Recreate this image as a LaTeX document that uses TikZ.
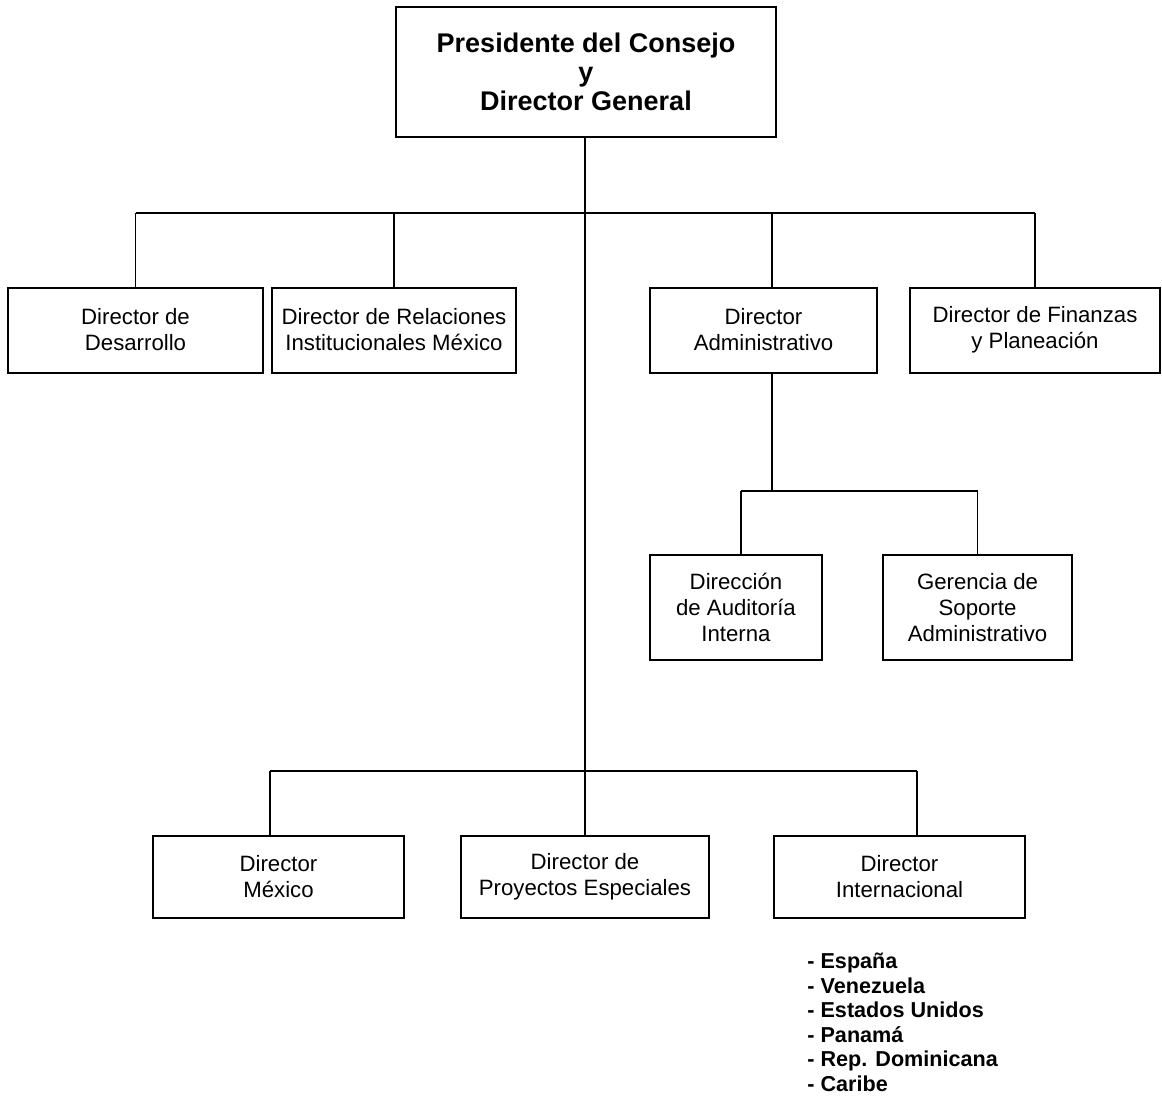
\documentclass[tikz,border=0pt]{standalone}
\usepackage{fontspec}
\setmainfont{Liberation Sans}
\begin{document}
\begin{tikzpicture}[x=0.5pt,y=-0.5pt,
  box/.style={draw,line width=1pt,rectangle,inner sep=0pt,align=center,font=\fontsize{11.1}{13}\selectfont},
  link/.style={line width=0.75pt}]
\useasboundingbox (0,0) rectangle (1162,1099);
% top
\node[box,minimum width=190pt,minimum height=65pt,font=\bfseries\fontsize{13.5}{14.5}\selectfont] (top) at (586,72) {Presidente del Consejo\\y\\Director General};
% row 1
\node[box,minimum width=127.5pt,minimum height=42.5pt] (d1) at (135.5,330) {Director de\\Desarrollo};
\node[box,minimum width=122pt,minimum height=42.5pt] (d2) at (394,330) {Director de Relaciones\\Institucionales México};
\node[box,minimum width=113.5pt,minimum height=42.5pt] (d3) at (763.5,330) {Director\\Administrativo};
\node[box,minimum width=125pt,minimum height=42.5pt] (d4) at (1035,330) {Director de Finanzas\\y Planeación};
% row 2
\node[box,minimum width=86pt,minimum height=52.5pt] (aud) at (736,607.5) {Dirección\\de Auditoría\\Interna};
\node[box,minimum width=94.5pt,minimum height=52.5pt] (ger) at (977.5,607.5) {Gerencia de\\Soporte\\Administrativo};
% row 3
\node[box,minimum width=125.5pt,minimum height=41pt] (mex) at (278.5,877) {Director\\México};
\node[box,minimum width=124pt,minimum height=41pt] (proy) at (585,877) {Director de\\Proyectos Especiales};
\node[box,minimum width=125.5pt,minimum height=41pt] (int) at (899.5,877) {Director\\Internacional};
% list
\node[anchor=north west,inner sep=0pt,align=left,font=\bfseries\fontsize{10.8}{12.25}\selectfont] (lst) at (807,953) {- España\\- Venezuela\\- Estados Unidos\\- Panamá\\- Rep. Dominicana\\- Caribe};
% coordinates
\coordinate (b1) at (585,213);
\coordinate (b3) at (585,771);
\coordinate (b2) at (772,491);
\coordinate (d3n) at ([xshift=4.25pt]d3.north);
\coordinate (d3s) at ([xshift=4.25pt]d3.south);
\coordinate (audn) at ([xshift=2.5pt]aud.north);
\coordinate (mexn) at ([xshift=-4.25pt]mex.north);
\coordinate (intn) at ([xshift=8.75pt]int.north);
% connectors
\draw[link] (top.south -| b1) -- (proy.north);
\draw[link] (d1.north |- b1) -- (d4.north |- b1);
\draw[link] (d1.north) -- (d1.north |- b1);
\draw[link] (d2.north) -- (d2.north |- b1);
\draw[link] (d3n) -- (d3n |- b1);
\draw[link] (d4.north) -- (d4.north |- b1);
\draw[link] (d3s) -- (d3s |- b2);
\draw[link] (audn |- b2) -- (ger.north |- b2);
\draw[link] (audn) -- (audn |- b2);
\draw[link] (ger.north) -- (ger.north |- b2);
\draw[link] (mexn |- b3) -- (intn |- b3);
\draw[link] (mexn) -- (mexn |- b3);
\draw[link] (intn) -- (intn |- b3);
\end{tikzpicture}
\end{document}
